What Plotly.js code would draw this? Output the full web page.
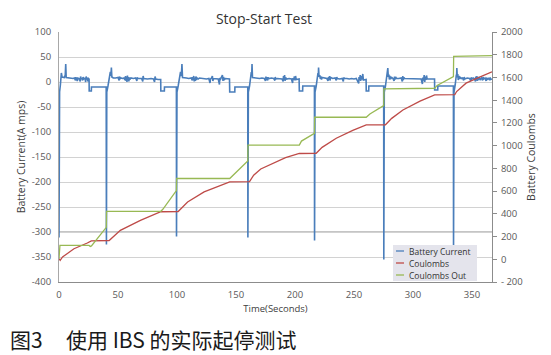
<!DOCTYPE html>
<html>
<head>
<meta charset="utf-8">
<script src="https://cdn.plot.ly/plotly-3.0.1.min.js"></script>
<style>
  html, body { margin: 0; padding: 0; background: #ffffff; }
  #chart { width: 551px; height: 355px; }
</style>
</head>
<body>
<div id="chart"></div>
<script>
// ---- DATA ----
const chartTitle = 'Stop-Start Test';
const xTitle = 'Time(Seconds)';
const yLeftTitle = 'Battery Current(A mps)';
const yRightTitle = 'Battery Coulombs';
const captionNumber = '图3';
const captionText = '使用 IBS 的实际起停测试';
const seriesNames = ['Battery Current', 'Coulombs', 'Coulombs Out'];
const seriesColors = ['#4a7ebb', '#be4b48', '#98b954'];

const xTickVals = [0, 50, 100, 150, 200, 250, 300, 350];
const leftTickVals = [-400, -350, -300, -250, -200, -150, -100, -50, 0, 50, 100];
const leftTickText = ['-400', '-350', '-300', '-250', '-200', '-150', '-100', '-50', '0', '50', '100'];
const rightTickVals = [-200, 0, 200, 400, 600, 800, 1000, 1200, 1400, 1600, 1800, 2000];
const rightTickText = ['- 200', '0', '200', '400', '600', '800', '1000', '1200', '1400', '1600', '1800', '2000'];

// Battery Current [time s, amps]
const batteryCurrent = [
  [0,-311],[0.5,-20],[1.2,-5],[2.0,18],[2.6,10],[4.5,9],[5.3,14],[5.7,36],[6.1,9],[8,8],[10,8],[12,7],[13,8],[14,3],[14.3,10],[14.7,4],[15,9],[15.5,2],[16,8],[17,7],[18,1],[18.3,11],[18.7,6],[19.5,8],[20,3],[20.4,10],[21,6],[22,8],[22.6,0],[23,11],[23.5,5],[24,9],[24.5,1],[25,7],[25.5,6],[25.6,-18],[27.4,-18],[27.5,-10],[40,-10],
  [40.2,-325],[40.5,-20],[41.5,-8],[43.5,20],[44,12],[44.4,29],[44.8,10],[46,8],[48,8],[50,9],[51,3],[51.3,11],[51.7,6],[52.5,8],[54,7],[55,8],[56,4],[56.4,12],[56.8,2],[57.2,10],[57.6,0],[58,13],[58.4,3],[58.8,10],[59.2,1],[59.6,9],[60,5],[61,8],[63,7],[65,8],[66,2],[66.3,9],[67,7],[70,7],[71,1],[71.3,12],[71.8,7],[75,6],[78,7],[80,6],[81,0],[81.4,11],[82,6],[84,5],[86.2,5],[86.3,-18],[89.3,-18],[89.4,-10],[99.5,-10],
  [99.6,-309],[100,-20],[101,-8],[103,20],[103.7,12],[104.2,36],[104.7,9],[106,8],[108,8],[110,7],[112,8],[113,3],[113.3,10],[113.7,5],[114.2,12],[114.6,1],[115,9],[115.5,2],[116,11],[116.5,4],[117,8],[118,6],[119,8],[121,7],[123,7],[125,6],[127,7],[128,-2],[128.4,6],[129,7],[130,12],[130.4,2],[131,7],[133,6],[135,6],[136,-5],[136.3,8],[137,6],[138.5,14],[139,2],[139.5,10],[140,4],[141,7],[144.5,6],[144.7,-20],[149,-20],[149.1,-10],[160,-10],
  [160.1,-311],[160.5,-20],[161.5,-8],[163,20],[163.3,12],[163.6,36],[164,9],[166,8],[168,8],[170,7],[172,8],[174,7],[175,2],[175.4,11],[175.8,4],[176.3,10],[176.7,3],[177.2,9],[178,7],[180,8],[182,7],[183,3],[183.3,10],[183.8,6],[185,7],[187,7],[189,6],[190,1],[190.3,12],[190.8,4],[191.2,14],[191.6,2],[192,9],[193,6],[195,7],[197,6],[198,-2],[198.3,8],[199,4],[199.5,11],[200,3],[200.5,12],[201,5],[203.5,6],[203.7,-18],[206.5,-18],[206.6,-8],[216.5,-8],
  [216.6,-317],[217,-20],[218,-8],[219.5,18],[219.8,12],[220,29],[220.4,10],[221,14],[221.5,6],[222,11],[222.5,5],[223,9],[225,8],[227,7],[228,2],[228.4,10],[228.8,4],[229.3,12],[229.7,3],[230.2,9],[232,7],[234,8],[235,3],[235.4,10],[236,7],[238,6],[240,7],[241,1],[241.3,9],[242,7],[244,7],[246,6],[248,7],[250,6],[252,7],[254,-3],[254.3,10],[254.8,4],[255.3,14],[255.7,2],[256.2,12],[256.7,5],[257.5,16],[258,4],[260.3,5],[260.4,-18],[262.5,-18],[262.6,-8],[275.2,-8],
  [275.3,-355],[275.7,-20],[276.7,-8],[278,18],[278.3,12],[278.7,28],[279.1,10],[279.6,15],[280,5],[280.5,12],[281,6],[282,9],[283,7],[284,2],[284.4,11],[284.8,5],[285.3,10],[286,7],[288,7],[290,8],[291,1],[291.4,12],[291.8,4],[292.3,9],[293,7],[295,7],[297,6],[299,7],[301,6],[303,7],[305,6],[307,6],[308,-4],[308.4,9],[309,3],[309.5,14],[310,0],[310.5,11],[311,4],[311.5,13],[312,6],[314,6],[316,6],[318.3,6],[318.4,-16],[321,-16],[321.1,-8],[334.3,-8],
  [334.4,-327],[334.8,-20],[335.8,-6],[336.8,15],[337,10],[337.2,28],[337.6,9],[338,16],[338.4,4],[339,12],[339.5,6],[340,10],[341,7],[342,8],[343,3],[343.4,10],[344,6],[346,8],[348,7],[349,2],[349.3,9],[350,6],[351,8],[352,7],[353,1],[353.3,11],[353.7,3],[354.2,12],[354.6,2],[355,9],[355.5,4],[356,10],[357,5],[358,8],[359,3],[359.4,10],[360,6],[361,8],[362,2],[362.4,9],[363,5],[364,7],[365,4],[365.4,9],[366,5],[367,6]
];

// Coulombs [time s, coulombs]
const coulombs = [
  [0,5],[1,-10],[3,20],[12.7,93],[24,143],[27.4,162],[42.5,165],[52,255],[69,343],[86.3,418],[101,420],[109,504],[123,593],[140,667],[144.7,681],[161.5,683],[165,740],[171,795],[181,845],[192,895],[203.7,931],[218,933],[223,985],[235,1065],[249,1135],[260.4,1182],[276.7,1184],[282,1240],[291.5,1314],[306,1392],[318.4,1447],[335.5,1449],[337,1476],[345,1550],[356,1600],[367,1650]
];

// Coulombs Out [time s, coulombs]
const coulombsOut = [
  [0,5],[0.8,122],[25.5,122],[26.5,113],[27.5,118],[40.1,281],[40.3,422],[86.3,422],[88,440],[99.5,605],[99.7,711],[144.7,711],[160,866],[160.2,1005],[203.7,1005],[205.5,1040],[216.5,1108],[216.7,1250],[260.4,1250],[263.5,1279],[275.2,1352],[275.4,1499],[318.4,1505],[320.5,1530],[334.3,1608],[334.5,1786],[367,1792]
];

// ---- CHART ----
const xs = a => a.map(p => p[0]);
const ys = a => a.map(p => p[1]);
const FONT = 'Open Sans, sans-serif';
const tickFont = { family: FONT, size: 9.5, color: '#595959' };

// pixel -> paper helpers (plot area: x 59..492, y 32..282)
const PL = 59, PW = 433, PB = 282, PH = 250;
const px = v => (v - PL) / PW;
const py = v => (PB - v) / PH;

const traces = [
  { type: 'scatter', mode: 'lines', name: seriesNames[0], x: xs(batteryCurrent), y: ys(batteryCurrent),
    line: { color: seriesColors[0], width: 1.6 }, yaxis: 'y' },
  { type: 'scatter', mode: 'lines', name: seriesNames[1], x: xs(coulombs), y: ys(coulombs),
    line: { color: seriesColors[1], width: 1.3 }, yaxis: 'y2' },
  { type: 'scatter', mode: 'lines', name: seriesNames[2], x: xs(coulombsOut), y: ys(coulombsOut),
    line: { color: seriesColors[2], width: 1.3 }, yaxis: 'y2' }
];

// Compact legend box like the reference (drawn in paper space)
const legendRows = [251, 263, 275];
const legendShapes = [
  { type: 'rect', xref: 'paper', yref: 'paper', x0: px(393), x1: px(477), y0: py(245), y1: py(281),
    fillcolor: '#e4e4ec', line: { width: 0 }, layer: 'above' }
].concat(seriesNames.map((n, i) => ({
  type: 'line', xref: 'paper', yref: 'paper', x0: px(396), x1: px(404), y0: py(legendRows[i]), y1: py(legendRows[i]),
  line: { color: seriesColors[i], width: 1.3 }, layer: 'above'
})));
const legendTexts = seriesNames.map((n, i) => ({
  text: n, xref: 'paper', yref: 'paper', x: px(408), y: py(legendRows[i]),
  xanchor: 'left', yanchor: 'middle', showarrow: false, borderpad: 0,
  font: { family: FONT, size: 8.5, color: '#333333' }
}));

const layout = {
  width: 551, height: 355,
  margin: { l: PL, r: 551 - PL - PW, t: 32, b: 355 - PB },
  paper_bgcolor: '#ffffff', plot_bgcolor: '#ffffff',
  font: { family: FONT, color: '#404040' },
  showlegend: false,
  title: { text: chartTitle, x: 264 / 551, xanchor: 'center', y: 1 - 19 / 355, yanchor: 'middle',
           font: { family: FONT, size: 14, color: '#333333' } },
  xaxis: {
    range: [0, 367], tickvals: xTickVals, showgrid: false, zeroline: false,
    showline: true, linecolor: '#8c8c8c', linewidth: 1, ticks: '', ticklabelstandoff: 4,
    tickfont: tickFont,
    title: { text: xTitle, font: { family: FONT, size: 9.5, color: '#404040' }, standoff: 4 }
  },
  yaxis: {
    range: [-400, 100], tickvals: leftTickVals, ticktext: leftTickText,
    showgrid: true, gridcolor: '#d2d2d2', gridwidth: 1, zeroline: false,
    showline: true, linecolor: '#a8a8a8', ticks: '', ticklabelstandoff: 5,
    tickfont: tickFont,
    title: { text: yLeftTitle, font: { family: FONT, size: 10.5, color: '#404040' }, standoff: 4 }
  },
  yaxis2: {
    overlaying: 'y', side: 'right', range: [-200, 2000],
    tickvals: rightTickVals, ticktext: rightTickText,
    showgrid: false, zeroline: false, showline: true, linecolor: '#8c8c8c',
    ticks: 'outside', ticklen: 4, tickcolor: '#8c8c8c', ticklabelstandoff: 2,
    tickfont: tickFont,
    title: { text: yRightTitle, font: { family: FONT, size: 10.5, color: '#404040' }, standoff: 5 }
  },
  shapes: [
    { type: 'line', xref: 'paper', x0: 0, x1: 1, yref: 'y', y0: -300, y1: -300,
      line: { color: '#8a8a8a', width: 1 }, layer: 'below' }
  ].concat(legendShapes),
  annotations: [
    { text: captionNumber, xref: 'paper', yref: 'paper', x: px(8), y: py(339),
      xanchor: 'left', yanchor: 'middle', showarrow: false,
      font: { family: 'Noto Sans CJK SC, sans-serif', size: 21, color: '#1a1a1a' } },
    { text: captionText, xref: 'paper', yref: 'paper', x: px(64), y: py(339),
      xanchor: 'left', yanchor: 'middle', showarrow: false,
      font: { family: 'Noto Sans CJK SC, sans-serif', size: 21, color: '#1a1a1a' } }
  ].concat(legendTexts)
};

Plotly.newPlot('chart', traces, layout, { displayModeBar: false, staticPlot: true });
</script>
</body>
</html>
